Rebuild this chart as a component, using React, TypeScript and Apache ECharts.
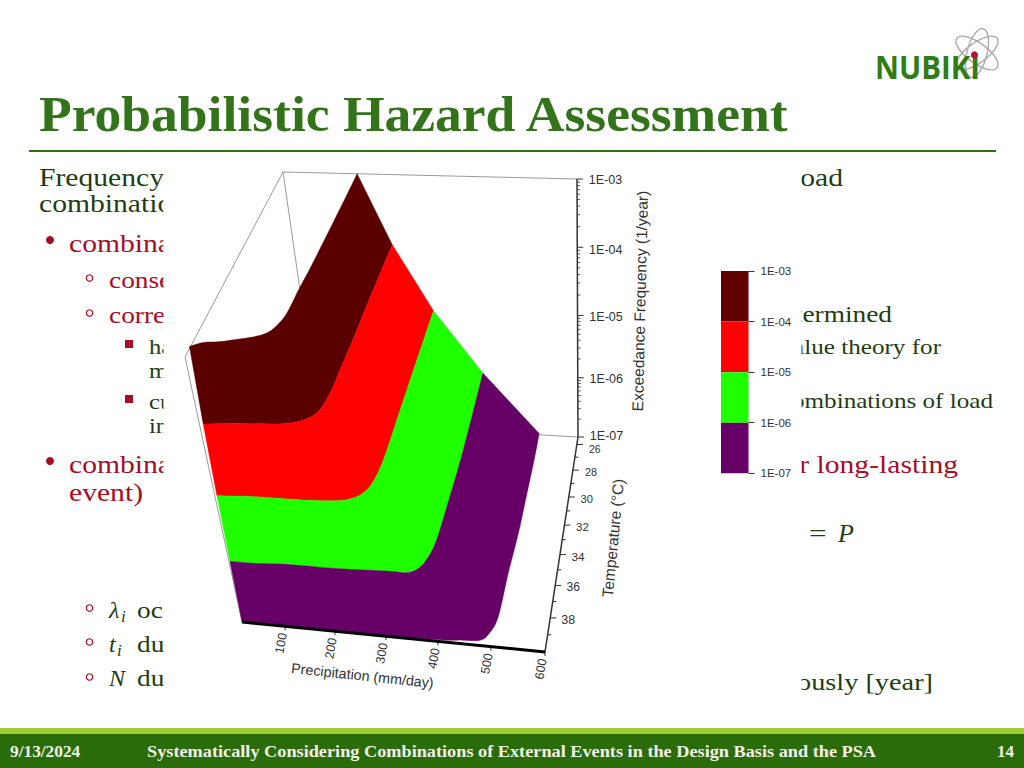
import React, { useEffect, useRef } from "react";
import * as echarts from "echarts";

// ---- data ----
const levels = [-3, -4, -5, -6, -7];
// contour lines of the surface: [precipitation mm/day, temperature °C]
const contour1E3 = [[10,39.3],[30,39.0],[58,38.9],[85,38.7],[111,38.5],[131,38.2],[142,37.7],[150,36.8],[152,35.0],[155,33.5],[158,30.8],[161,27.9],[163,25.4]];
const contour1E4 = [[15,39.8],[50,39.7],[102,39.6],[155,39.5],[188,39.2],[208,38.6],[216,37.4],[218,35.7],[220,33.5],[221,31.0],[223,28.4],[225,25.7]];
const contour1E5 = [[14,39.9],[82,39.8],[174,39.8],[235,39.7],[261,39.5],[278,39.1],[289,38.4],[295,36.9],[296,34.2],[296.5,32.2],[297.5,29.4],[299,25.5]];
const contour1E6 = [[14,40.0],[60,40.0],[124,39.9],[220,39.9],[314,39.8],[351,39.8],[370,39.5],[381,38.9],[390,37.7],[394,34.8],[397,31.5],[397,25.4]];
const contour1E7 = [[12,40.0],[137,40.0],[269,40.0],[403,39.9],[441,39.8],[478,39.7],[493,39.2],[503,38.2],[506,35.5],[511,32.8],[513,30.1],[515,27.2],[515,25.3]];
const contours = [contour1E3, contour1E4, contour1E5, contour1E6, contour1E7];
const bandColors = ["#5a0000", "#ff0000", "#1eff00", "#660066"];
const legendColors = ["#620000", "#ff0000", "#20ff00", "#660066"];
const legendLows = [1e-4, 1e-5, 1e-6, 1e-7];
const legendHighs = [1e-3, 1e-4, 1e-5, 1e-6];
const precipTicks = [100, 200, 300, 400, 500, 600];
const tempTicks = [26, 28, 30, 32, 34, 36, 38];
const tempMinorTicks = [27, 29, 31, 33, 35, 37, 39];
const zLabels = ["1E-03", "1E-04", "1E-05", "1E-06", "1E-07"];
const minorMultipliers = [2, 3, 4, 5, 6, 7, 8, 9];

// ---- 3D view of the Origin plot ----
const Pmin = 12, Pmax = 600, Tmin = 25.4, Tmax = 40;
const floorQuad = [[319,422],[578,437],[545,652],[242,622]];
const topQuad = [[283,172],[577,179],[535,371],[185,357]];
const levelFrac = [0, 0.2296, 0.4708, 0.7354, 1]; // -7..-3
function frac(z: number) {
  const t = Math.min(3.9999, Math.max(0, z + 7));
  const i = Math.floor(t);
  return levelFrac[i] + (levelFrac[i + 1] - levelFrac[i]) * (t - i);
}
function project(P: number, T: number, z: number): number[] {
  const f = z === -3 ? 1 : frac(z);
  const q = floorQuad.map((p, i) => [p[0] + (topQuad[i][0] - p[0]) * f, p[1] + (topQuad[i][1] - p[1]) * f]);
  const [[x0,y0],[x1,y1],[x2,y2],[x3,y3]] = q;
  const dx1 = x1-x2, dx2 = x3-x2, sx = x0-x1+x2-x3, dy1 = y1-y2, dy2 = y3-y2, sy = y0-y1+y2-y3;
  const d = dx1*dy2 - dx2*dy1;
  const g = (sx*dy2 - dx2*sy)/d, h = (dx1*sy - sx*dy1)/d;
  const u = (P-Pmin)/(Pmax-Pmin), v = (T-Tmin)/(Tmax-Tmin);
  const w = g*u + h*v + 1;
  return [((x1-x0+g*x1)*u + (x3-x0+h*x3)*v + x0)/w, ((y1-y0+g*y1)*u + (y3-y0+h*y3)*v + y0)/w];
}
function smoothLine(pts: number[][]) {
  const out: number[][] = [];
  for (let i = 0; i < pts.length - 1; i++) {
    const p0 = pts[Math.max(0, i-1)], p1 = pts[i], p2 = pts[i+1], p3 = pts[Math.min(pts.length-1, i+2)];
    for (let s = 0; s < 6; s++) {
      const t = s/6, a = t*t, b = a*t;
      out.push([0, 1].map(k => 0.5*(2*p1[k] + (p2[k]-p0[k])*t + (2*p0[k]-5*p1[k]+4*p2[k]-p3[k])*a + (3*p1[k]-p0[k]-3*p2[k]+p3[k])*b)));
    }
  }
  out.push(pts[pts.length-1]);
  return out;
}
const contourPx = contours.map((c, i) => smoothLine(c.map(([P, T]) => project(P, T, levels[i]))));

// ---- slide furniture ----
const SERIF = "Liberation Serif", SANS = "Liberation Sans";
const GREEN = "#1f3d10", RED = "#a80d26";
function txt(text: string, x: number, base: number, size: number, fill: string, o: any = {}) {
  return {
    type: "text", x, y: base - size*0.33, scaleX: o.sx ?? 1.14, z: o.z ?? 2, silent: true,
    style: { text, x: 0, y: 0, fill, fontFamily: o.ff ?? SERIF, fontSize: size, fontWeight: o.b ? "bold" : "normal",
      fontStyle: o.i ? "italic" : "normal", textAlign: o.a ?? "left", textVerticalAlign: "middle" },
  };
}
const dot = (x: number, y: number) => ({ type: "circle", z: 2, shape: { cx: x, cy: y, r: 4 }, style: { fill: RED } });
const ring = (x: number, y: number) => ({ type: "circle", z: 2, shape: { cx: x, cy: y, r: 3.2 }, style: { fill: "none", stroke: RED, lineWidth: 1.2 } });
const sq = (x: number, y: number) => ({ type: "rect", z: 2, shape: { x, y, width: 8, height: 8 }, style: { fill: RED } });
const orbit = (rot: number) => ({ type: "ellipse", z: 2, x: 977, y: 53, rotation: rot, shape: { cx: 0, cy: 0, rx: 25, ry: 10 }, style: { fill: "none", stroke: "#a9aca9", lineWidth: 1.4 } });

const graphicElements: any[] = [
  { type: "rect", z: 0, shape: { x: 0, y: 0, width: 1024, height: 768 }, style: { fill: "#ffffff" } },
  orbit(Math.PI*0.42), orbit(-Math.PI*0.2), orbit(Math.PI*0.2),
  txt("NUBIKI", 875, 77, 32, "#2f7d14", { ff: "Open Sans", b: true, sx: 0.92 }),
  { type: "circle", z: 3, shape: { cx: 974.5, cy: 55, r: 3.6 }, style: { fill: "#b5123e" } },
  txt("Probabilistic Hazard Assessment", 39, 130, 51, "#33731a", { b: true, sx: 1.05 }),
  { type: "rect", z: 2, shape: { x: 29, y: 150, width: 967, height: 2 }, style: { fill: "#2f7016" } },
  txt("Frequency", 39, 186, 26, GREEN), txt("combination", 39, 212, 26, GREEN), txt("load", 843, 186, 26, GREEN, { a: "right" }),
  dot(50, 240), txt("combination", 69, 252, 26, RED),
  ring(89.5, 278), txt("consequence", 109, 288, 24, RED),
  ring(89.5, 313), txt("correlated", 109, 323, 24, RED), txt("determined", 892, 322, 24, GREEN, { a: "right" }),
  sq(125, 340), txt("hazard", 149, 354, 21.5, GREEN), txt("m", 149, 378, 21.5, GREEN), txt("value theory for", 941, 354, 21.5, GREEN, { a: "right", sx: 1.17 }),
  sq(125, 395), txt("cumulative", 149, 409, 21.5, GREEN), txt("in", 149, 433, 21.5, GREEN), txt("combinations of load", 993, 408, 21.5, GREEN, { a: "right", sx: 1.17 }),
  dot(50, 461), txt("combination", 69, 473, 26, RED), txt("event)", 69, 501, 26, RED), txt("for long-lasting", 958, 473, 26, RED, { a: "right" }),
  txt("=", 809, 542, 26, GREEN, { sx: 1.2 }), txt("P", 838, 542, 26, GREEN, { i: true, sx: 1 }),
  ring(89.5, 608), txt("λ", 109, 618, 24, GREEN, { i: true, sx: 1 }), txt("i", 121, 622, 17, GREEN, { i: true, sx: 1 }), txt("occurrence", 137, 618, 24, GREEN),
  ring(89.5, 642), txt("t", 109, 652, 24, GREEN, { i: true, sx: 1 }), txt("i", 117, 656, 17, GREEN, { i: true, sx: 1 }), txt("duration", 137, 652, 24, GREEN),
  ring(89.5, 677), txt("N", 109, 686, 24, GREEN, { i: true, sx: 1 }), txt("duration", 137, 686, 24, GREEN),
  txt("simultaneously [year]", 933, 690, 24, GREEN, { a: "right", sx: 1.18 }),
  // the chart's white picture sits over the middle of the slide text
  { type: "rect", z: 4, shape: { x: 163.5, y: 165, width: 638, height: 535 }, style: { fill: "#ffffff" } },
  { type: "rect", z: 2, shape: { x: 0, y: 728, width: 1024, height: 6 }, style: { fill: "#9ccb3c" } },
  { type: "rect", z: 2, shape: { x: 0, y: 734, width: 1024, height: 34 }, style: { fill: "#2a6c0a" } },
  txt("9/13/2024", 10, 757, 17, "#f2f2e6", { b: true, sx: 1.02 }),
  txt("Systematically Considering Combinations of External Events in the Design Basis and the PSA", 147, 757, 17, "#f2f2e6", { b: true, sx: 1.075 }),
  txt("14", 1014, 757, 17, "#f2f2e6", { b: true, sx: 1, a: "right" }),
];

const line = (a: number[], b: number[], stroke: string, lineWidth: number) => ({
  type: "line", shape: { x1: a[0], y1: a[1], x2: b[0], y2: b[1] }, style: { stroke, lineWidth },
});
const label = (text: string, x: number, y: number, size: number, rot = 0) => ({
  type: "text", x, y, rotation: rot*Math.PI/180,
  style: { text, x: 0, y: 0, fill: "#333333", fontFamily: SANS, fontSize: size, textAlign: "center", textVerticalAlign: "middle" },
});

const customBase = { type: "custom", coordinateSystem: "none", silent: true, clip: false };
const option: any = {
  animation: false,
  backgroundColor: "#ffffff",
  graphic: { elements: graphicElements },
  grid: { left: 721, top: 271, width: 27.5, height: 202.3, show: false },
  xAxis: { type: "category", data: [""], show: false },
  yAxis: {
    type: "log", logBase: 10, min: 1e-7, max: 1e-3, position: "right", z: 10,
    axisLine: { show: false }, splitLine: { show: false }, minorTick: { show: false },
    axisTick: { show: true, length: 6, inside: false, lineStyle: { color: "#333333" } },
    axisLabel: { margin: 12, fontFamily: SANS, fontSize: 11.5, color: "#333333",
      formatter: (v: number) => `1E-0${-Math.round(Math.log10(v))}` },
  },
  series: [
    { ...customBase, z: 5, data: [[0],[1],[2],[3],[4]],
      renderItem: (p: any) => {
        const a = (P: number, T: number, z: number) => project(P, T, z);
        const pairs = [
          [a(Pmin,Tmin,-3), a(Pmax,Tmin,-3)], [a(Pmin,Tmin,-3), a(Pmin,Tmax,-3)], [a(Pmin,Tmin,-3), a(Pmin,Tmin,-7)],
          [a(Pmin,Tmax,-3), a(Pmin,Tmax,-7)], [a(Pmin,Tmin,-7), a(Pmax,Tmin,-7)],
        ][p.dataIndex];
        return line(pairs[0], pairs[1], "#9a9a9a", 1);
      } },
    { ...customBase, z: 6, data: bandColors.map((_, i) => [i]),
      renderItem: (p: any) => {
        const i = p.dataIndex;
        const points = [...contourPx[i], ...[...contourPx[i+1]].reverse()];
        return { type: "polygon", shape: { points }, style: { fill: bandColors[i], stroke: bandColors[i], lineWidth: 0.4 } };
      } },
    // exceedance frequency axis
    { ...customBase, z: 7, data: levels.map((l) => [l]),
      renderItem: (p: any) => {
        const l = levels[p.dataIndex];
        const pos = project(Pmax, Tmin, l);
        const dy = l === -4 ? 3 : l === -7 ? -1.5 : 1;
        const children: any[] = [line(pos, [pos[0]+6, pos[1]], "#333333", 1), label(zLabels[p.dataIndex], pos[0]+28.5, pos[1]+dy, 12.5)];
        if (l > -7) children.unshift(line(pos, project(Pmax, Tmin, l-1), "#333333", 1.5));
        if (l > -7) minorMultipliers.forEach((m) => { const q = project(Pmax, Tmin, l-1+Math.log10(m)); children.push(line(q, [q[0]+3, q[1]], "#333333", 0.8)); });
        return { type: "group", children };
      } },
    // temperature axis
    { ...customBase, z: 7, data: tempTicks.map((t) => [t]),
      renderItem: (p: any) => {
        const t = tempTicks[p.dataIndex];
        const pos = project(Pmax, t, -7);
        const m = project(Pmax, tempMinorTicks[p.dataIndex], -7);
        return { type: "group", children: [line(pos, [pos[0]+6, pos[1]], "#333333", 1), line(m, [m[0]+3.5, m[1]], "#333333", 1),
          label(String(t), pos[0]+18, pos[1]+(t === 26 ? 5 : 2), 10.5 + (t-26)/12*2)] };
      } },
    // precipitation axis
    { ...customBase, z: 8, data: precipTicks.map((t) => [t]),
      renderItem: (p: any) => {
        const t = precipTicks[p.dataIndex];
        const pos = project(t, Tmax, -7);
        return { type: "group", children: [line(pos, [pos[0], pos[1]+4], "#333333", 1), label(String(t), pos[0]-4, pos[1]+17, 12.5, 80)] };
      } },
    // axis lines and titles
    { ...customBase, z: 8, data: [[0]],
      renderItem: () => ({ type: "group", children: [
        line(project(Pmax,Tmin,-7), project(Pmax,Tmax,-7), "#333333", 1.5),
        line(project(Pmin,Tmax,-7), project(Pmax,Tmax,-7), "#000000", 3),
        label("Exceedance Frequency (1/year)", 640, 301, 15.5, 88.7),
        label("Temperature (°C)", 613, 538, 15.5, 84.5),
        label("Precipitation (mm/day)", 362.5, 675.5, 14.3, -6),
      ] }) },
    // colour legend
    { type: "custom", coordinateSystem: "cartesian2d", z: 9, silent: true, encode: { x: 0, y: [1, 2] },
      data: legendLows.map((lo, i) => [0, lo, legendHighs[i]]),
      renderItem: (p: any, api: any) => {
        const a = api.coord([0, api.value(2)]), b = api.coord([0, api.value(1)]);
        return { type: "rect", shape: { x: p.coordSys.x, y: a[1], width: p.coordSys.width, height: b[1]-a[1] }, style: { fill: legendColors[p.dataIndex] } };
      } },
  ],
};

export default function App() {
  const ref = useRef<HTMLDivElement>(null);
  useEffect(() => {
    document.body.style.margin = "0";
    const chart = echarts.init(ref.current!, undefined, { renderer: "svg" });
    chart.setOption(option);
    return () => chart.dispose();
  }, []);
  return <div ref={ref} style={{ position: "absolute", left: 0, top: 0, width: 1024, height: 768 }} />;
}
